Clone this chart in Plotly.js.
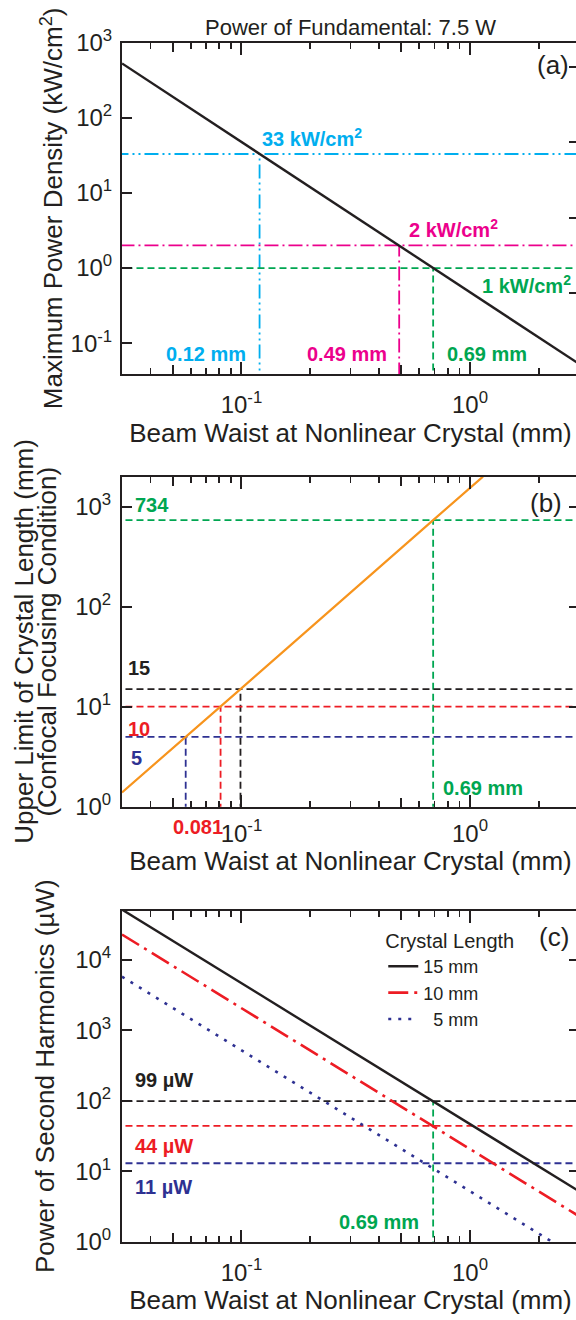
<!DOCTYPE html>
<html><head><meta charset="utf-8">
<script src="https://cdn.plot.ly/plotly-3.0.1.min.js"></script>
<style>html,body{margin:0;padding:0;overflow:hidden;background:#fff}#chart{width:579px;height:1320px}</style>
</head><body><div id="chart"></div>
<script>
// ---------------- data ----------------
const waistRange = [0.03, 3];

// (a) maximum power density (kW/cm^2) vs beam waist (mm)
const waistA = [0.03, 0.12, 0.49, 0.69, 3];
const densityA = [530, 33, 2, 1, 0.053];
const markWaistA = [0.12, 0.49, 0.69];
const markDensityA = [33, 2, 1];
const markDensityLabelA = ['33 kW/cm<sup>2</sup>', '2 kW/cm<sup>2</sup>', '1 kW/cm<sup>2</sup>'];
const markWaistLabelA = ['0.12 mm', '0.49 mm', '0.69 mm'];

// (b) upper limit of crystal length (mm) vs beam waist (mm)
const waistB = [0.03, 0.057, 0.081, 0.099, 0.69, 1.14];
const lengthB = [1.39, 5, 10, 15, 734, 2000];
const markLengthB = [734, 15, 10, 5];
const markWaistB = [0.69, 0.099, 0.081, 0.057];
const markLengthLabelB = ['734', '15', '10', '5'];
const markWaistLabelB = ['0.69 mm', '0.081'];

// (c) power of second harmonics (uW) vs beam waist (mm)
const waistC = [0.03, 0.69, 3];
const crystalLengths = ['15 mm', '10 mm', '\u00a0\u00a05 mm'];
const shg15 = [52000, 99, 5.2];
const shg10 = [23000, 44, 2.3];
const shg5 = [5800, 11, 0.58];
const markPowerC = [99, 44, 13];
const markPowerLabelC = ['99 \u00b5W', '44 \u00b5W', '11 \u00b5W'];
const markWaistC = 0.69;
const markWaistLabelC = '0.69 mm';

// ticks
const xTickVals = [0.1, 1];
const xTickText = ['10<sup>-1</sup>', '10<sup>0</sup>'];
const xMinorVals = [0.04, 0.06, 0.07, 0.08, 0.09, 0.2, 0.3, 0.4, 0.6, 0.7, 0.8, 0.9, 2, 3];
const xMidVals = [0.05, 0.5];
const yTickValsA = [0.1, 1, 10, 100, 1000];
const yTickTextA = ['10<sup>-1</sup>', '10<sup>0</sup>', '10<sup>1</sup>', '10<sup>2</sup>', '10<sup>3</sup>'];
const yRightTickValsA = [0.47, 4.7, 47, 470];
const yTickValsB = [1, 10, 100, 1000];
const yTickTextB = ['10<sup>0</sup>', '10<sup>1</sup>', '10<sup>2</sup>', '10<sup>3</sup>'];
const yTickValsC = [1, 10, 100, 1000, 10000];
const yTickTextC = ['10<sup>0</sup>', '10<sup>1</sup>', '10<sup>2</sup>', '10<sup>3</sup>', '10<sup>4</sup>'];

// ---------------- styles ----------------
const ink = '#231f20';
const cyan = '#00aeef', magenta = '#ec008c', green = '#00a651', orange = '#f7941d', red = '#ed1c24', navy = '#2e3192';
const FONT = 'Liberation Sans, Arial, Helvetica, sans-serif';
const LG = Math.log10;
const far = [0.001, 100];      // reference lines run past the axes and are clipped by the plot area
const low = 1e-4;

const colorsA = [cyan, magenta, green];
const dashA = ['14px,4px,2px,4px,2px,4px', '14px,4px,2px,4px', '7px,4px'];
const colorsB = [green, ink, red, navy];
const colorsC = [ink, red, navy];

const traces = [];
function hline(y, color, dash, xa, ya) {
  traces.push({x: far, y: [y, y], xaxis: xa, yaxis: ya, mode: 'lines', showlegend: false, hoverinfo: 'skip',
    line: {color: color, width: 1.8, dash: dash}});
}
function vline(x, ytop, color, dash, xa, ya) {
  traces.push({x: [x, x], y: [low, ytop], xaxis: xa, yaxis: ya, mode: 'lines', showlegend: false, hoverinfo: 'skip',
    line: {color: color, width: 1.8, dash: dash}});
}

// (a)
markWaistA.forEach((w, i) => { hline(markDensityA[i], colorsA[i], dashA[i], 'x', 'y'); vline(w, markDensityA[i], colorsA[i], dashA[i], 'x', 'y'); });
traces.push({x: waistA, y: densityA, xaxis: 'x', yaxis: 'y', mode: 'lines', showlegend: false, line: {color: ink, width: 2.4}});

// (b)
markWaistB.forEach((w, i) => { hline(markLengthB[i], colorsB[i], '7px,4px', 'x2', 'y2'); vline(w, markLengthB[i], colorsB[i], '7px,4px', 'x2', 'y2'); });
traces.push({x: waistB, y: lengthB, xaxis: 'x2', yaxis: 'y2', mode: 'lines', showlegend: false, line: {color: orange, width: 2.2}});

// (c)
markPowerC.forEach((p, i) => hline(p, colorsC[i], '7px,4px', 'x3', 'y3'));
vline(markWaistC, markPowerC[0], green, '7px,4px', 'x3', 'y3');
const shgSeries = [shg15, shg10, shg5];
const shgDash = ['solid', '20px,6px,3px,6px', '3px,7px'];
shgSeries.forEach((s, i) => traces.push({x: waistC, y: s, xaxis: 'x3', yaxis: 'y3', mode: 'lines', name: crystalLengths[i],
  showlegend: true, line: {color: colorsC[i], width: i === 0 ? 2.4 : 2.6, dash: shgDash[i]}}));

// invisible anchors so the extra tick axes are drawn
[['x4', 'y'], ['x5', 'y2'], ['x6', 'y3'], ['x', 'y4']].forEach(p => traces.push({x: [0.1], y: [1], xaxis: p[0], yaxis: p[1],
  mode: 'markers', marker: {opacity: 0}, showlegend: false, hoverinfo: 'skip'}));

// ---------------- layout ----------------
const xr = [LG(waistRange[0]), LG(waistRange[1])];
function xAxis(anchor, standoff, lblOff) {
  return {type: 'log', range: xr, anchor: anchor, domain: [0, 1], showgrid: false, zeroline: false,
    showline: true, linecolor: ink, linewidth: 2, mirror: 'ticks',
    ticks: 'inside', ticklen: 12, tickwidth: 2, tickcolor: ink,
    tickmode: 'array', tickvals: xTickVals, ticktext: xTickText, tickfont: {family: FONT, size: 24, color: ink},
    ticklabelstandoff: lblOff,
    minor: {tickmode: 'array', tickvals: xMinorVals, ticks: 'inside', ticklen: 6, tickwidth: 1.8, tickcolor: ink, showgrid: false},
    title: {text: 'Beam Waist at Nonlinear Crystal (mm)', font: {family: FONT, size: 26, color: ink}, standoff: standoff}};
}
function midAxis(over, anchor) {
  return {type: 'log', range: xr, overlaying: over, anchor: anchor, showgrid: false, zeroline: false, showline: false,
    mirror: 'ticks', ticks: 'inside', ticklen: 9, tickwidth: 2, tickcolor: ink, tickmode: 'array', tickvals: xMidVals,
    showticklabels: false};
}
function yAxis(anchor, dom, range, vals, text, title, standoff, lblOff, mirror) {
  return {type: 'log', range: range, anchor: anchor, domain: dom, showgrid: false, zeroline: false,
    showline: true, linecolor: ink, linewidth: 2, mirror: mirror,
    ticks: 'inside', ticklen: 10, tickwidth: 2, tickcolor: ink,
    tickmode: 'array', tickvals: vals, ticktext: text, tickfont: {family: FONT, size: 24, color: ink},
    ticklabelstandoff: lblOff,
    title: {text: title, font: {family: FONT, size: 26, color: ink}, standoff: standoff}};
}

const H = 1320, W = 579, L = 122;
const domA = [1 - 374 / H, 1 - 42.7 / H];
const domB = [1 - 806.7 / H, 1 - 476.7 / H];
const domC = [1 - 1241.7 / H, 1 - 910.7 / H];

const ann = [];
function A(o) { ann.push(Object.assign({showarrow: false}, o)); }
const bold = (t) => '<b>' + t + '</b>';
const lf = (size, color) => ({family: FONT, size: size, color: color});
// (a) labels
A({xref: 'x', yref: 'y', x: LG(markWaistA[0]), y: LG(markDensityA[0]), xanchor: 'left', yanchor: 'bottom', yshift: 2,
  text: bold(markDensityLabelA[0]), font: lf(20, cyan)});
A({xref: 'x', yref: 'y', x: LG(markWaistA[1]), y: LG(markDensityA[1]), xanchor: 'left', yanchor: 'bottom', xshift: 8, yshift: 2,
  text: bold(markDensityLabelA[1]), font: lf(20, magenta)});
A({xref: 'x', yref: 'y', x: xr[1], y: LG(markDensityA[2]), xanchor: 'right', yanchor: 'top', xshift: -6, yshift: -2,
  text: bold(markDensityLabelA[2]), font: lf(20, green)});
A({xref: 'x', yref: 'y domain', x: LG(markWaistA[0]), y: 0.06, xanchor: 'right', yanchor: 'middle', xshift: -12,
  text: bold(markWaistLabelA[0]), font: lf(20, cyan)});
A({xref: 'x', yref: 'y domain', x: LG(markWaistA[1]), y: 0.06, xanchor: 'right', yanchor: 'middle', xshift: -10,
  text: bold(markWaistLabelA[1]), font: lf(20, magenta)});
A({xref: 'x', yref: 'y domain', x: LG(markWaistA[2]), y: 0.06, xanchor: 'left', yanchor: 'middle', xshift: 12,
  text: bold(markWaistLabelA[2]), font: lf(20, green)});
A({xref: 'x domain', yref: 'y domain', x: 0.982, y: 0.933, xanchor: 'right', yanchor: 'middle', text: '(a)', font: lf(26, ink)});

// (b) labels
A({xref: 'x2 domain', yref: 'y2', x: 0.024, y: LG(markLengthB[0]), xanchor: 'left', yanchor: 'bottom', yshift: 2,
  text: bold(markLengthLabelB[0]), font: lf(20, green)});
A({xref: 'x2 domain', yref: 'y2', x: 0.008, y: LG(markLengthB[1]), xanchor: 'left', yanchor: 'bottom', yshift: 8,
  text: bold(markLengthLabelB[1]), font: lf(20, ink)});
A({xref: 'x2 domain', yref: 'y2', x: 0.008, y: LG(markLengthB[2]), xanchor: 'left', yanchor: 'top', yshift: -9,
  text: bold(markLengthLabelB[2]), font: lf(20, red)});
A({xref: 'x2 domain', yref: 'y2', x: 0.016, y: LG(markLengthB[3]), xanchor: 'left', yanchor: 'top', yshift: -8,
  text: bold(markLengthLabelB[3]), font: lf(20, navy)});
A({xref: 'x2', yref: 'y2 domain', x: LG(markWaistB[0]), y: 0.057, xanchor: 'left', yanchor: 'middle', xshift: 8,
  text: bold(markWaistLabelB[0]), font: lf(20, green)});
A({xref: 'x2', yref: 'y2 domain', x: LG(markWaistB[2]), y: -0.061, xanchor: 'right', yanchor: 'middle', xshift: 4,
  text: bold(markWaistLabelB[1]), font: lf(20, red)});
A({xref: 'x2 domain', yref: 'y2 domain', x: 0.968, y: 0.92, xanchor: 'right', yanchor: 'middle', text: '(b)', font: lf(26, ink)});
// first line of the (b) y-axis title (tight leading, as in the original)
A({xref: 'paper', yref: 'y2 domain', x: (24 - L) / (W - L), y: 0.5, xanchor: 'center', yanchor: 'middle', textangle: -90,
  text: 'Upper Limit of Crystal Length (mm)', font: lf(26, ink)});

// (c) labels
A({xref: 'x3 domain', yref: 'y3', x: 0.024, y: LG(markPowerC[0]), xanchor: 'left', yanchor: 'bottom', yshift: 8,
  text: bold(markPowerLabelC[0]), font: lf(20, ink)});
A({xref: 'x3 domain', yref: 'y3', x: 0.024, y: LG(markPowerC[1]), xanchor: 'left', yanchor: 'top', yshift: -7,
  text: bold(markPowerLabelC[1]), font: lf(20, red)});
A({xref: 'x3 domain', yref: 'y3', x: 0.024, y: LG(markPowerC[2]), xanchor: 'left', yanchor: 'top', yshift: -11,
  text: bold(markPowerLabelC[2]), font: lf(20, navy)});
A({xref: 'x3', yref: 'y3 domain', x: LG(markWaistC), y: 0.06, xanchor: 'right', yanchor: 'middle', xshift: -12,
  text: bold(markWaistLabelC), font: lf(20, green)});
A({xref: 'x3 domain', yref: 'y3 domain', x: 0.982, y: 0.921, xanchor: 'right', yanchor: 'middle', text: '(c)', font: lf(26, ink)});

const layout = {
  width: W, height: H,
  margin: {l: L, r: 0, t: 0, b: 0},
  paper_bgcolor: '#fff', plot_bgcolor: '#fff',
  font: {family: FONT, color: ink},
  title: {text: 'Power of Fundamental: 7.5 W', font: lf(22, ink),
    x: 0.5, xanchor: 'center', xref: 'paper', y: 1 - 27 / H, yanchor: 'middle', yref: 'container'},
  xaxis: xAxis('y', 6, 8),
  yaxis: yAxis('x', domA, [-1.41, 3], yTickValsA, yTickTextA, 'Maximum Power Density (kW/cm<sup>2</sup>)', 0, 3, true),
  yaxis4: {type: 'log', range: [-1.41, 3], overlaying: 'y', side: 'right', anchor: 'x', showgrid: false, zeroline: false,
    showline: false, ticks: 'inside', ticklen: 10, tickwidth: 2, tickcolor: ink, tickmode: 'array',
    tickvals: yRightTickValsA, showticklabels: false},
  xaxis2: xAxis('y2', 3, 4),
  yaxis2: yAxis('x2', domB, [0, 3.3], yTickValsB, yTickTextB, '(Confocal Focusing Condition)', 11, 4, 'ticks'),
  xaxis3: xAxis('y3', 5, 8),
  yaxis3: yAxis('x3', domC, [0, 4.7], yTickValsC, yTickTextC, 'Power of Second Harmonics (\u00b5W)', 13, 4, 'ticks'),
  xaxis4: midAxis('x', 'y'),
  xaxis5: midAxis('x2', 'y2'),
  xaxis6: midAxis('x3', 'y3'),
  showlegend: true,
  legend: {x: 331 / W, xanchor: 'left', y: 1 - 922 / H, yanchor: 'top', bgcolor: 'rgba(0,0,0,0)',
    font: lf(18, ink), title: {text: 'Crystal Length', font: lf(20, ink)}, tracegroupgap: 0},
  annotations: ann
};

Plotly.newPlot('chart', traces, layout, {displayModeBar: false, staticPlot: true});
</script>
</body></html>
